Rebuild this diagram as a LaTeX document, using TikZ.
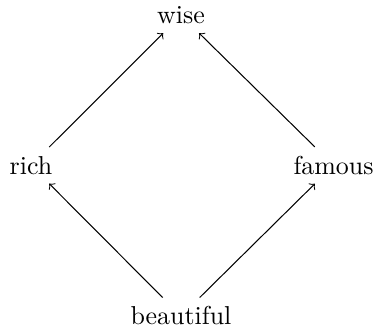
\documentclass[tikz,border=0pt]{standalone}
\begin{document}
\begin{tikzpicture}[x=1cm,y=1cm,font=\normalsize,
edge/.style={draw=black,->}]
\path[use as bounding box] (0,0) rectangle (5.075,4.478);
\node (wise) at (2.456,4.27) {wise};
\node (rich) at (0.42,2.235) {rich};
\node (famous) at (4.526,2.235) {famous};
\node (beautiful) at (2.456,0.19) {beautiful};
\draw[edge] (beautiful) -- (rich);
\draw[edge] (beautiful) -- (famous);
\draw[edge] (rich) -- (wise);
\draw[edge] (famous) -- (wise);
\end{tikzpicture}
\end{document}
